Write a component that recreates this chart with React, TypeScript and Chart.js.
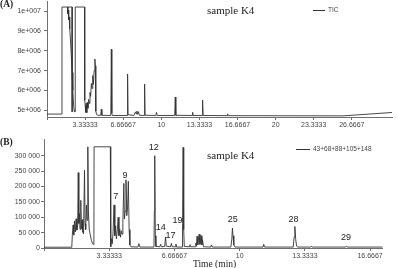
import React, { useEffect, useRef } from "react";
import { Chart, registerables } from "chart.js";

Chart.register(...registerables);

// ---------------- Panel A: TIC (time in min, abundance) ----------------
const ticTrace: [number, number][] = [
  [0, 4.81e6], [1.3, 4.81e6], [1.31, 10.2e6], [1.78, 10.2e6], [1.83, 9.85e6],
  [1.86, 10.05e6], [1.9, 9.55e6], [1.94, 9.7e6], [1.99, 9.1e6], [2.05, 8.6e6],
  [2.12, 7.8e6], [2.19, 6.9e6], [2.26, 6.0e6], [2.33, 5.2e6], [2.4, 4.92e6],
  [2.44, 5.0e6], [2.46, 4.95e6], [2.47, 10.2e6], [3.29, 10.2e6], [3.3, 5.5e6],
  [3.34, 5.25e6], [3.38, 4.9e6], [3.43, 5.35e6], [3.48, 4.88e6], [3.53, 5.4e6],
  [3.58, 5.1e6], [3.64, 5.55e6], [3.7, 5.35e6], [3.76, 5.9e6], [3.82, 5.7e6],
  [3.88, 6.35e6], [3.94, 6.1e6], [4.0, 6.75e6], [4.06, 6.3e6], [4.12, 7.0e6],
  [4.19, 7.58e6], [4.23, 7.25e6], [4.27, 4.95e6], [4.34, 4.78e6], [4.45, 4.75e6],
  [4.7, 4.75e6], [4.75, 5.05e6], [4.8, 4.75e6], [5.58, 4.74e6], [5.63, 8.07e6],
  [5.67, 4.85e6], [5.72, 4.74e6], [7.0, 4.74e6], [7.05, 6.83e6], [7.09, 4.78e6],
  [7.6, 4.74e6], [7.74, 4.92e6], [7.8, 4.82e6], [7.86, 4.96e6], [7.93, 4.8e6],
  [8.0, 4.93e6], [8.08, 4.75e6], [8.5, 4.74e6], [8.54, 6.32e6], [8.58, 4.75e6],
  [9.52, 4.74e6], [9.58, 4.9e6], [9.64, 4.74e6], [11.17, 4.74e6], [11.22, 5.67e6],
  [11.27, 4.75e6], [12.7, 4.74e6], [12.74, 4.9e6], [12.78, 4.74e6], [13.56, 4.74e6],
  [13.61, 5.52e6], [13.66, 4.74e6], [15.75, 4.73e6], [15.8, 4.82e6], [15.85, 4.73e6],
  [25.9, 4.72e6], [30.18, 4.89e6],
];
// right edge of the first saturated block
const ticSatEdge: [number, number][] = [[1.78, 10.2e6], [2.2, 10.2e6], [2.2, 4.92e6]];

const ticXTicks = [0, 3.33333, 6.66667, 10, 13.3333, 16.6667, 20, 23.3333, 26.6667];
const ticXLabels = ["", "3.33333", "6.66667", "10", "13.3333", "16.6667", "20", "23.3333", "26.6667"];
const ticYTicks = [5e6, 6e6, 7e6, 8e6, 9e6, 10e6];
const ticYLabels = ["5e+006", "6e+006", "7e+006", "8e+006", "9e+006", "1e+007"];

// ---------------- Panel B: ions 43+68+88+105+148 ----------------
const ionTrace: [number, number][] = [
  [0, 2500], [1.42, 2500], [1.45, 45000], [1.49, 75000], [1.52, 42000], [1.56, 88000],
  [1.6, 52000], [1.64, 95000], [1.68, 58000], [1.72, 72000], [1.75, 245000], [1.78, 80000],
  [1.81, 112000], [1.84, 60000], [1.88, 155000], [1.91, 62000], [1.95, 92000], [1.98, 52000],
  [2.02, 46000], [2.07, 253000], [2.1, 78000], [2.13, 60000], [2.17, 140000], [2.2, 90000],
  [2.24, 329000], [2.27, 120000], [2.31, 62000], [2.36, 45000], [2.42, 25000], [2.48, 14000],
  [2.55, 11000], [2.56, 329000], [3.39, 329000], [3.41, 4000], [3.45, 30000], [3.49, 14000],
  [3.53, 52000], [3.58, 140000], [3.62, 40000], [3.66, 72000], [3.7, 30000], [3.75, 60000],
  [3.79, 100000], [3.83, 40000], [3.87, 62000], [3.91, 35000], [3.95, 56000], [3.99, 45000],
  [4.03, 80000], [4.08, 210000], [4.11, 95000], [4.15, 120000], [4.19, 222000], [4.23, 105000],
  [4.27, 130000], [4.31, 217000], [4.35, 60000], [4.39, 10000], [4.44, 4000], [4.8, 3000],
  [4.85, 14000], [4.9, 3000], [5.62, 3000], [5.64, 120000], [5.66, 300000], [5.69, 40000],
  [5.72, 5000], [5.92, 4000], [5.96, 12000], [6.0, 4000], [6.17, 5000], [6.21, 36000],
  [6.25, 6000], [6.47, 4000], [6.51, 15000], [6.55, 4000], [6.7, 4000], [6.74, 13000],
  [6.78, 3000], [7.06, 3000], [7.08, 80000], [7.11, 327000], [7.14, 60000], [7.17, 5000],
  [7.42, 4000], [7.46, 11000], [7.5, 4000], [7.72, 4000], [7.76, 16000], [7.79, 6000],
  [7.82, 38000], [7.86, 10000], [7.93, 45000], [7.97, 12000], [8.03, 40000], [8.07, 10000],
  [8.1, 27000], [8.15, 4000], [8.52, 3000], [8.56, 10000], [8.6, 3000], [9.55, 3000],
  [9.6, 30000], [9.63, 65000], [9.66, 40000], [9.7, 10000], [9.76, 3000], [11.19, 3000],
  [11.23, 12000], [11.27, 3000], [12.74, 3000], [12.78, 35000], [12.82, 70000], [12.86, 30000],
  [12.91, 6000], [12.97, 3000], [13.63, 3000], [13.67, 6000], [13.71, 3000], [15.42, 3000],
  [15.46, 6000], [15.5, 3000], [17.31, 3000],
];
const ionXTicks = [0, 3.33333, 6.66667, 10, 13.3333, 16.6667];
const ionXLabels = ["", "3.33333", "6.66667", "10", "13.3333", "16.6667"];
const ionYTicks = [0, 50000, 100000, 150000, 200000, 250000, 300000];
const ionYLabels = ["0", "50 000", "100 000", "150 000", "200 000", "250 000", "300 000"];

const peakNames = ["7", "9", "12", "14", "17", "19", "25", "28", "29"];
const peakTimes = [3.67, 4.14, 5.61, 5.97, 6.46, 6.82, 9.65, 12.75, 15.44];
const peakLabelValues = [168000, 236000, 328000, 65000, 40000, 90000, 94000, 94000, 34000];

const AXIS = "#6f6f6f";
const TICKC = "#444";
const LINE = "#333";

function legendPlugin(x1: number, x2: number, y: number, fontSize: number) {
  return {
    id: "miniLegend",
    afterDraw(chart: any) {
      const ctx = chart.ctx;
      ctx.save();
      ctx.strokeStyle = "#333";
      ctx.lineWidth = 1;
      ctx.beginPath();
      ctx.moveTo(x1, y + 0.5);
      ctx.lineTo(x2, y + 0.5);
      ctx.stroke();
      ctx.fillStyle = "#444";
      ctx.font = `${fontSize}px "Liberation Sans", Arial, sans-serif`;
      ctx.textAlign = "left";
      ctx.textBaseline = "middle";
      ctx.fillText(chart.data.datasets[0].label, x2 + 3, y + 0.5);
      ctx.restore();
    },
  };
}

const peakLabelPlugin = {
  id: "peakLabels",
  afterDatasetsDraw(chart: any) {
    const ctx = chart.ctx;
    const xs = chart.scales.x;
    const ys = chart.scales.y;
    ctx.save();
    ctx.fillStyle = "#222";
    ctx.font = '9px "Liberation Sans", Arial, sans-serif';
    ctx.textAlign = "center";
    ctx.textBaseline = "middle";
    peakNames.forEach((n, i) => {
      ctx.fillText(n, xs.getPixelForValue(peakTimes[i]), ys.getPixelForValue(peakLabelValues[i]));
    });
    ctx.restore();
  },
};

function makeScales(o: {
  xmax: number; xTicks: number[]; xLabels: string[]; xHeight: number; xPad: number;
  ymin: number; ymax: number; yTicks: number[]; yLabels: string[]; yWidth: number; yPad: number;
}) {
  const font = { family: '"Liberation Sans", Arial, sans-serif', size: 7 };
  return {
    x: {
      type: "linear",
      min: 0,
      max: o.xmax,
      afterBuildTicks: (s: any) => { s.ticks = o.xTicks.map((value) => ({ value })); },
      afterFit: (s: any) => { s.height = o.xHeight; s.paddingLeft = 0; s.paddingRight = 0; },
      grid: { display: true, drawOnChartArea: false, drawTicks: true, tickLength: 3, color: AXIS, lineWidth: 1 },
      border: { display: true, color: AXIS, width: 1 },
      ticks: { autoSkip: false, maxRotation: 0, minRotation: 0, padding: o.xPad, color: TICKC, font,
        callback: (_v: any, i: number) => o.xLabels[i] },
    },
    y: {
      type: "linear",
      min: o.ymin,
      max: o.ymax,
      afterBuildTicks: (s: any) => { s.ticks = o.yTicks.map((value) => ({ value })); },
      afterFit: (s: any) => { s.width = o.yWidth; s.paddingTop = 0; s.paddingBottom = 0; },
      grid: { display: true, drawOnChartArea: false, drawTicks: true, tickLength: 3, color: AXIS, lineWidth: 1 },
      border: { display: true, color: AXIS, width: 1 },
      ticks: { autoSkip: false, padding: o.yPad, color: TICKC, font,
        callback: (_v: any, i: number) => o.yLabels[i] },
    },
  };
}

function lineDs(label: string, pts: [number, number][]) {
  return {
    label,
    data: pts.map(([x, y]) => ({ x, y })),
    borderColor: LINE,
    borderWidth: 0.9,
    pointRadius: 0,
    tension: 0,
    fill: false,
  };
}

export default function App() {
  const refA = useRef<HTMLCanvasElement>(null);
  const refB = useRef<HTMLCanvasElement>(null);

  useEffect(() => {
    const common = {
      animation: false,
      responsive: false,
      events: [],
      plugins: { legend: { display: false }, tooltip: { enabled: false }, title: { display: false } },
    };
    const a = new Chart(refA.current!, {
      type: "line",
      data: { datasets: [lineDs("TIC", ticTrace), lineDs("", ticSatEdge)] },
      options: {
        ...common,
        layout: { padding: { top: 1, right: 6, bottom: 0, left: 0 } },
        scales: makeScales({
          xmax: 30.18, xTicks: ticXTicks, xLabels: ticXLabels, xHeight: 13, xPad: 1,
          ymin: 4.663e6, ymax: 10.5035e6, yTicks: ticYTicks, yLabels: ticYLabels, yWidth: 47, yPad: 3,
        }),
      } as any,
      plugins: [legendPlugin(313, 325, 10, 6.5)],
    });
    const b = new Chart(refB.current!, {
      type: "line",
      data: { datasets: [lineDs("43+68+88+105+148", ionTrace)] },
      options: {
        ...common,
        layout: { padding: { top: 9, right: 15.3, bottom: 0, left: 0 } },
        scales: makeScales({
          xmax: 17.31, xTicks: ionXTicks, xLabels: ionXLabels, xHeight: 20, xPad: 1.2,
          ymin: 0, ymax: 354356, yTicks: ionYTicks, yLabels: ionYLabels, yWidth: 44, yPad: 1,
        }),
      } as any,
      plugins: [legendPlugin(296, 310, 19, 6.5), peakLabelPlugin],
    });
    return () => { a.destroy(); b.destroy(); };
  }, []);

  const serif = '"Liberation Serif", "Times New Roman", serif';
  const txt = (s: React.CSSProperties): React.CSSProperties => ({
    position: "absolute", fontFamily: serif, color: "#222", lineHeight: 1, whiteSpace: "nowrap", ...s,
  });

  return (
    <div style={{ position: "absolute", left: 0, top: 0, width: 398, height: 268, overflow: "hidden", background: "#fff" }}>
      <canvas ref={refA} width={398} height={130} style={{ position: "absolute", left: 0, top: 0, width: 398, height: 130 }} />
      <canvas ref={refB} width={398} height={138} style={{ position: "absolute", left: 0, top: 130, width: 398, height: 138 }} />
      <span style={txt({ left: 0, top: 0, fontSize: 9.5, fontWeight: "bold" })}>(A)</span>
      <span style={txt({ left: 0, top: 138, fontSize: 9.5, fontWeight: "bold" })}>(B)</span>
      <span style={txt({ left: 207, top: 5, fontSize: 11 })}>sample K4</span>
      <span style={txt({ left: 207, top: 150, fontSize: 11 })}>sample K4</span>
      <span style={txt({ left: 193, top: 260, fontSize: 9.5 })}>Time (min)</span>
    </div>
  );
}
